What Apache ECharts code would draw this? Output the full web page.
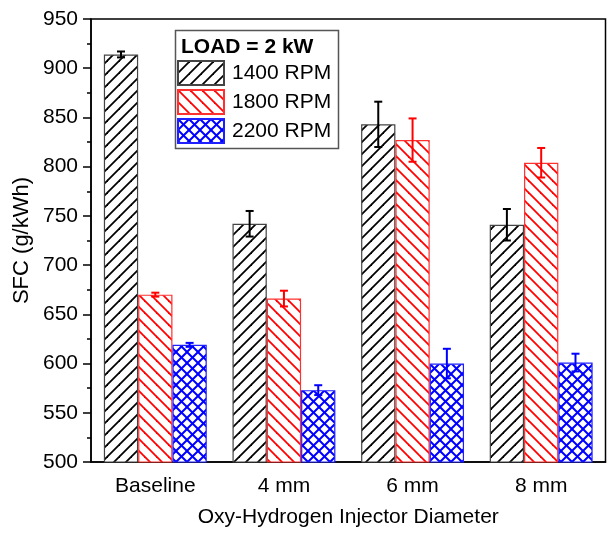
<!DOCTYPE html>
<html>
<head>
<meta charset="utf-8">
<script src="https://cdn.jsdelivr.net/npm/echarts@6/dist/echarts.min.js"></script>
<style>html,body{margin:0;padding:0;background:#fff}#c{width:607px;height:533px}</style>
</head>
<body>
<div id="c"></div>
<script>
var categories = ['Baseline', '4 mm', '6 mm', '8 mm'];
var rpm1400 = [914, 742, 843, 741];
var err1400 = [3, 13, 23, 16];
var rpm1800 = [670, 666, 827, 804];
var err1800 = [2, 8, 22, 15];
var rpm2200 = [619, 573, 600, 601];
var err2200 = [2, 5, 15, 9];
var seriesNames = ['1400 RPM', '1800 RPM', '2200 RPM'];
var yTicks = [500, 550, 600, 650, 700, 750, 800, 850, 900, 950];

function makePattern(kind, color) {
  var s = kind === 'cross' ? 11 : 12;
  var c = document.createElement('canvas');
  c.width = s; c.height = s;
  var g = c.getContext('2d');
  g.fillStyle = '#fff'; g.fillRect(0, 0, s, s);
  g.strokeStyle = color; g.lineWidth = kind === 'cross' ? 2 : 1.8;
  g.lineCap = 'square';
  function fwd() {
    for (var k = -1; k <= 1; k++) {
      g.beginPath(); g.moveTo(k * s, s); g.lineTo(k * s + s, 0); g.stroke();
    }
  }
  function back() {
    for (var k = -1; k <= 1; k++) {
      g.beginPath(); g.moveTo(k * s, 0); g.lineTo(k * s + s, s); g.stroke();
    }
  }
  if (kind === 'fwd') fwd();
  else if (kind === 'back') back();
  else { fwd(); back(); }
  return { image: c, repeat: 'repeat' };
}

var fills = [makePattern('fwd', '#000'), makePattern('back', '#ff0000'), makePattern('cross', '#0000ff')];
var borders = ['#444', '#ff3030', '#2020ff'];
var errColors = ['#000', '#ff0000', '#0000ff'];
var vals = [rpm1400, rpm1800, rpm2200];
var errs = [err1400, err1800, err2200];

var chart = echarts.init(document.getElementById('c'), null, { renderer: 'canvas' });

var series = [];
for (var i = 0; i < 3; i++) {
  series.push({
    name: seriesNames[i],
    type: 'bar',
    data: vals[i],
    barGap: '0%',
    barCategoryGap: '20%',
    itemStyle: { color: fills[i], borderColor: borders[i], borderWidth: 1.2 },
    z: 2
  });
}
for (var j = 0; j < 3; j++) {
  (function (idx) {
    var d = [];
    for (var k = 0; k < categories.length; k++) {
      d.push([k, vals[idx][k] - errs[idx][k], vals[idx][k] + errs[idx][k]]);
    }
    series.push({
      type: 'custom',
      name: 'err' + idx,
      data: d,
      z: 5,
      silent: true,
      encode: { x: 0, y: [1, 2] },
      renderItem: function (params, api) {
        var ci = api.value(0);
        var lo = api.coord([ci, api.value(1)]);
        var hi = api.coord([ci, api.value(2)]);
        var band = api.size([1, 0])[0];
        var bw = band * 0.8 / 3;
        var x = lo[0] + (idx - 1) * bw;
        var cw = 4;
        var st = { stroke: errColors[idx], lineWidth: 2 };
        return {
          type: 'group',
          children: [
            { type: 'line', shape: { x1: x, y1: lo[1], x2: x, y2: hi[1] }, style: st },
            { type: 'line', shape: { x1: x - cw, y1: lo[1], x2: x + cw, y2: lo[1] }, style: st },
            { type: 'line', shape: { x1: x - cw, y1: hi[1], x2: x + cw, y2: hi[1] }, style: st }
          ]
        };
      }
    });
  })(j);
}

var font = 'Liberation Sans, Arial, sans-serif';
chart.setOption({
  animation: false,
  backgroundColor: '#fff',
  grid: { left: 91, right: 1.5, top: 19, bottom: 69, show: true, borderColor: '#000', borderWidth: 1.5, backgroundColor: 'transparent' },
  title: {
    text: 'LOAD = 2 kW', left: 176, top: 32,
    textStyle: { fontFamily: font, fontSize: 21, fontWeight: 'bold', color: '#000' }
  },
  legend: {
    data: seriesNames,
    orient: 'vertical', left: 177, top: 60,
    itemWidth: 46, itemHeight: 24, itemGap: 3,
    icon: 'rect', padding: 0,
    textStyle: { fontFamily: font, fontSize: 21, lineHeight: 24, color: '#000', padding: [0, 0, 0, 3] }
  },
  graphic: [{
    type: 'rect', left: 173, top: 28, z: 100,
    shape: { width: 163, height: 118 },
    style: { fill: 'none', stroke: '#555', lineWidth: 1.5 }
  }],
  xAxis: {
    type: 'category', data: categories,
    name: 'Oxy-Hydrogen Injector Diameter', nameLocation: 'middle', nameGap: 45,
    nameMoveOverlap: false,
    nameTextStyle: { fontFamily: font, fontSize: 21, color: '#000' },
    axisLine: { lineStyle: { color: '#000', width: 1.5 } },
    axisTick: { alignWithLabel: true, length: 8, lineStyle: { color: '#000', width: 1.5 } },
    axisLabel: { fontFamily: font, fontSize: 21, color: '#000', margin: 14 },
    splitLine: { show: false }
  },
  yAxis: {
    type: 'value', min: 500, max: 950, interval: 50,
    name: 'SFC (g/kWh)', nameLocation: 'middle', nameGap: 58, nameRotate: 90,
    nameMoveOverlap: false,
    nameTextStyle: { fontFamily: font, fontSize: 22, color: '#000' },
    axisLine: { show: true, lineStyle: { color: '#000', width: 1.5 } },
    axisTick: { show: true, length: 8, lineStyle: { color: '#000', width: 1.5 } },
    minorTick: { show: true, splitNumber: 2, length: 4, lineStyle: { color: '#000', width: 1.5 } },
    axisLabel: {
      fontFamily: font, fontSize: 21, color: '#000', margin: 13,
      formatter: function (v) { return yTicks.indexOf(v) >= 0 ? String(v) : ''; }
    },
    splitLine: { show: false }
  },
  series: series
});
</script>
</body>
</html>
